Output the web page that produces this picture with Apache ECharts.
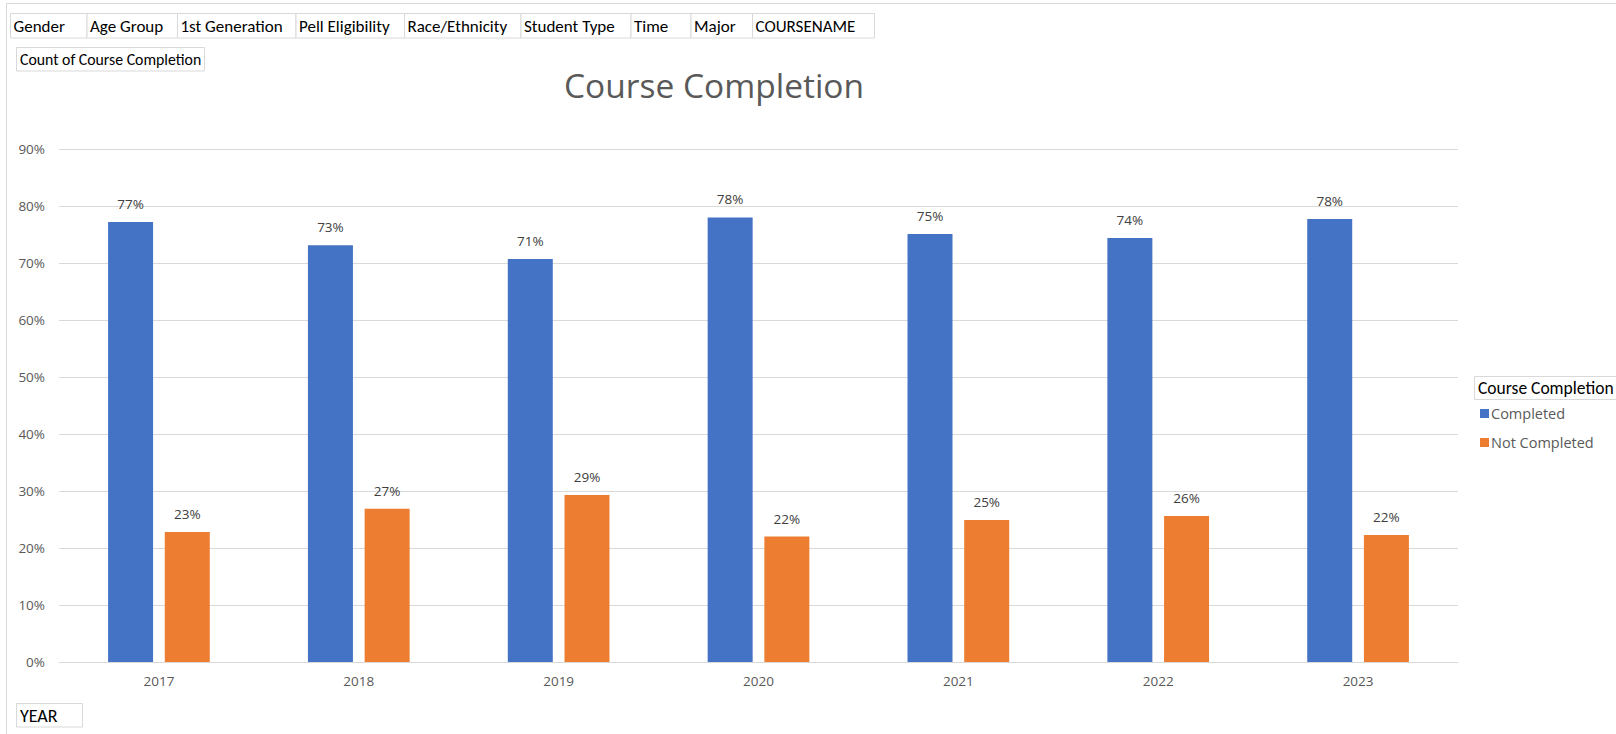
<!DOCTYPE html>
<html>
<head>
<meta charset="utf-8">
<script src="https://cdn.jsdelivr.net/npm/echarts@6/dist/echarts.min.js"></script>
<style>
html,body{margin:0;padding:0;background:#fff;}
#chart{width:1616px;height:734px;}
</style>
</head>
<body>
<div id="chart"></div>
<script>
// ---- data ----
const years = ['2017', '2018', '2019', '2020', '2021', '2022', '2023'];
const completed = [77.2, 73.1, 70.7, 78.0, 75.1, 74.4, 77.7];
const notCompleted = [22.8, 26.9, 29.3, 22.0, 24.9, 25.6, 22.3];
const seriesNames = ['Completed', 'Not Completed'];
const yTicks = [0, 10, 20, 30, 40, 50, 60, 70, 80, 90];
const filterFields = ['Gender', 'Age Group', '1st Generation', 'Pell Eligibility', 'Race/Ethnicity', 'Student Type', 'Time', 'Major', 'COURSENAME'];
const valueField = 'Count of Course Completion';
const axisField = 'YEAR';
const chartTitle = 'Course Completion';
const legendTitle = 'Course Completion';

// ---- layout (positions only) ----
const filterEdges = [10, 86.5, 177, 295.5, 404, 520.5, 630.5, 690.5, 752, 874];
const BTN_FONT = 'Carlito, Lato, sans-serif';
const FONT = '"Open Sans", "Noto Sans", sans-serif';
const BORDER = '#d9d9d9';

const graphics = [];
// outer chart border
graphics.push({type: 'rect', shape: {x: 6.5, y: 3.5, width: 1700, height: 800}, style: {fill: 'none', stroke: BORDER, lineWidth: 1}, silent: true, z: -10});
// filter buttons
filterFields.forEach((f, i) => {
  const x0 = filterEdges[i], x1 = filterEdges[i + 1];
  graphics.push({type: 'rect', shape: {x: x0 + 0.5, y: 13.5, width: x1 - x0, height: 24.5}, style: {fill: '#fff', stroke: BORDER, lineWidth: 1}, silent: true});
  graphics.push({type: 'text', x: x0 + 3.5, y: 26, style: {text: f, fill: '#000', font: '17px ' + BTN_FONT, textVerticalAlign: 'middle', verticalAlign: 'middle'}, silent: true});
});
// value field button
graphics.push({type: 'rect', shape: {x: 16.5, y: 47.5, width: 188, height: 23.5}, style: {fill: '#fff', stroke: BORDER, lineWidth: 1}, silent: true});
graphics.push({type: 'text', x: 20, y: 59.5, style: {text: valueField, fill: '#000', font: '15.8px ' + BTN_FONT, verticalAlign: 'middle', textVerticalAlign: 'middle'}, silent: true});
// axis field button
graphics.push({type: 'rect', shape: {x: 16.5, y: 703.5, width: 66, height: 23.5}, style: {fill: '#fff', stroke: BORDER, lineWidth: 1}, silent: true});
graphics.push({type: 'text', x: 20, y: 715.5, style: {text: axisField, fill: '#000', font: '18px ' + BTN_FONT, verticalAlign: 'middle', textVerticalAlign: 'middle'}, silent: true});
// legend title box
graphics.push({type: 'rect', shape: {x: 1474.5, y: 376.5, width: 160, height: 23}, style: {fill: '#fff', stroke: BORDER, lineWidth: 1}, silent: true});
graphics.push({type: 'text', x: 1478, y: 388, style: {text: legendTitle, fill: '#000', font: '17.5px ' + BTN_FONT, verticalAlign: 'middle', textVerticalAlign: 'middle'}, silent: true});

const labelStyle = {
  show: true, position: 'top', distance: 11,
  color: '#404040', fontSize: 13.5, fontFamily: FONT,
  formatter: p => Math.round(p.value) + '%'
};

const chart = echarts.init(document.getElementById('chart'), null, {renderer: 'svg'});
chart.setOption({
  animation: false,
  backgroundColor: '#fff',
  title: {
    text: chartTitle, left: 709, top: 63, textAlign: 'center',
    textStyle: {color: '#595959', fontSize: 33.5, fontWeight: 'normal', fontFamily: FONT}
  },
  grid: {left: 59, right: 158, top: 149, bottom: 72, containLabel: false},
  legend: {
    orient: 'vertical', left: 1475, top: 401,
    itemWidth: 9, itemHeight: 9, itemGap: 14, icon: 'rect',
    textStyle: {color: '#595959', fontSize: 14.5, fontFamily: FONT, padding: [0, 0, 0, -3]},
    data: seriesNames
  },
  xAxis: {
    type: 'category', data: years,
    axisLine: {show: true, lineStyle: {color: BORDER, width: 1}},
    axisTick: {show: false},
    axisLabel: {color: '#595959', fontSize: 13.5, fontFamily: FONT, margin: 12}
  },
  yAxis: {
    type: 'value', min: yTicks[0], max: yTicks[yTicks.length - 1], interval: yTicks[1] - yTicks[0],
    axisLine: {show: false}, axisTick: {show: false},
    axisLabel: {color: '#595959', fontSize: 13.5, fontFamily: FONT, margin: 14, formatter: '{value}%'},
    splitLine: {lineStyle: {color: BORDER, width: 1}}
  },
  series: [
    {name: seriesNames[0], type: 'bar', data: completed, barWidth: 45, barGap: '26%', itemStyle: {color: '#4472C4'}, label: labelStyle},
    {name: seriesNames[1], type: 'bar', data: notCompleted, barWidth: 45, barGap: '26%', itemStyle: {color: '#ED7D31'}, label: labelStyle}
  ],
  graphic: graphics
});
</script>
</body>
</html>
